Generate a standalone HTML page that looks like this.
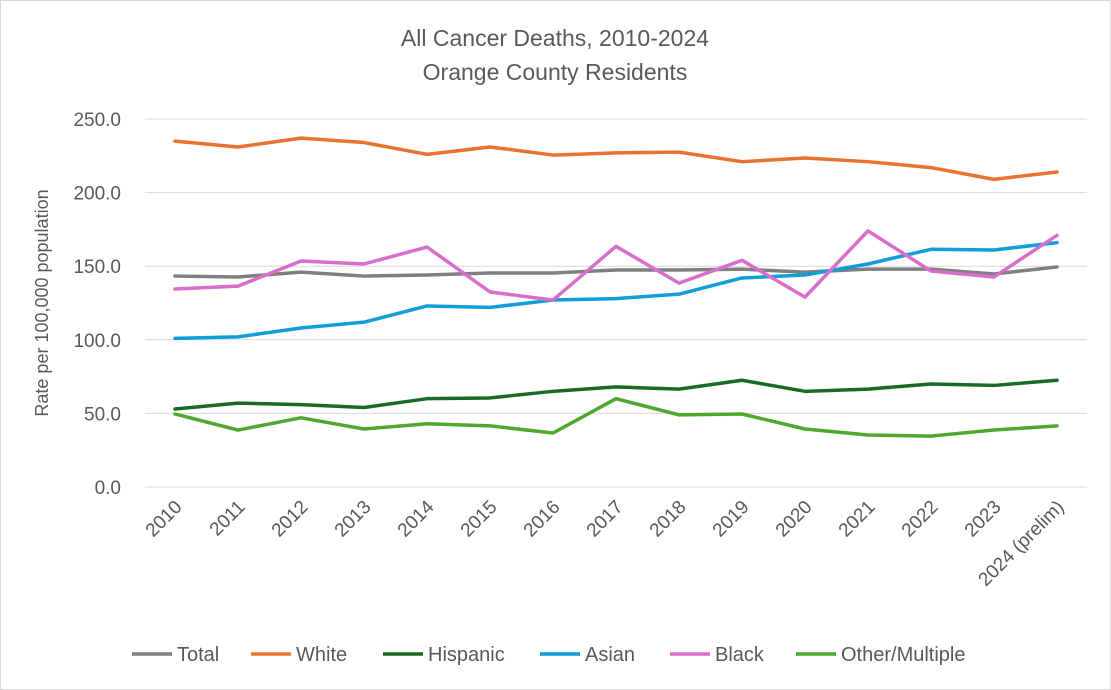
<!DOCTYPE html>
<html><head><meta charset="utf-8"><style>
html,body{margin:0;padding:0;background:#fff;}
svg{display:block;font-family:"Liberation Sans",Arial,sans-serif;}
</style></head><body>
<svg id="chart" width="1111" height="690" xmlns="http://www.w3.org/2000/svg">
<rect x="0.5" y="0.5" width="1110" height="689" fill="#fff" stroke="#d9d9d9"/>
<text x="555" y="46" text-anchor="middle" font-size="23" fill="#595959">All Cancer Deaths, 2010-2024</text>
<text x="555" y="80" text-anchor="middle" font-size="23" fill="#595959">Orange County Residents</text>
<text transform="translate(48,303) rotate(-90)" text-anchor="middle" font-size="18" fill="#595959">Rate per 100,000 population</text>
<g id="grid"></g><g id="series"></g><g id="xlabels"></g><g id="legend"></g>
</svg>
<script>
const categories=["2010","2011","2012","2013","2014","2015","2016","2017","2018","2019","2020","2021","2022","2023","2024 (prelim)"];
const yTicks=[0,50,100,150,200,250];
const seriesNames=["Total","White","Hispanic","Asian","Black","Other/Multiple"];
const seriesColors=["#7f7f7f","#e97132","#196b24","#0f9ed5","#d86ecc","#4ea72e"];
const totalVals=[143.3,142.7,146,143.3,144,145.4,145.4,147.4,147.4,148,146,148,148,144.7,149.5];
const whiteVals=[235,231,237,234,226,231,225.5,227,227.5,221,223.5,221,217,209,214];
const hispanicVals=[53,57,56,54,60,60.5,65,68,66.5,72.5,65,66.5,70,69,72.5];
const asianVals=[101,102,108,112,123,122,127,128,131,142,144,151.5,161.5,161,166];
const blackVals=[134.5,136.5,153.5,151.5,163,132.5,127,163.5,138.5,154,129,174,146.7,142.7,171];
const otherVals=[49.6,38.7,47,39.4,43,41.5,36.7,60,49,49.6,39.4,35.3,34.6,38.7,41.5];
const allVals=[totalVals,whiteVals,hispanicVals,asianVals,blackVals,otherVals];
const NS="http://www.w3.org/2000/svg";
const x0=175,xStep=63,yBase=487,yPer=1.472;
const xs=i=>x0+i*xStep, ys=v=>yBase-v*yPer;
function mk(t,a){const e=document.createElementNS(NS,t);for(const k in a)e.setAttribute(k,a[k]);return e;}
const grid=document.getElementById('grid');
yTicks.forEach(v=>{
 const l=mk('line',{x1:145,x2:1087,y1:ys(v),y2:ys(v),stroke:'#d9d9d9','stroke-width':1});
 
 
 grid.appendChild(l);
 const t=mk('text',{x:121,y:ys(v)+7,'text-anchor':'end','font-size':19,fill:'#595959'});
 t.textContent=v.toFixed(1);
 
 
 grid.appendChild(t);
});
const xl=document.getElementById('xlabels');
categories.forEach((c,i)=>{
 const t=mk('text',{transform:`translate(${xs(i)+8},${508}) rotate(-45)`,'text-anchor':'end','font-size':19,fill:'#595959'});
 t.textContent=c;
 
 
 xl.appendChild(t);
});
const sg=document.getElementById('series');
allVals.forEach((vals,s)=>{
 const p=mk('polyline',{points:vals.map((v,i)=>xs(i)+','+ys(v)).join(' '),fill:'none',stroke:seriesColors[s],'stroke-width':3.5,'stroke-linejoin':'round','stroke-linecap':'round'});
 
 
 sg.appendChild(p);
});
const lg=document.getElementById('legend');
const lx=[132,251,383,540,670,796];
seriesNames.forEach((n,s)=>{
 const g=mk('g',{});
 
 
 g.appendChild(mk('line',{x1:lx[s],x2:lx[s]+40,y1:654,y2:654,stroke:seriesColors[s],'stroke-width':3.5}));
 const t=mk('text',{x:lx[s]+45,y:661,'font-size':20,fill:'#595959'});
 t.textContent=n;
 g.appendChild(t);
 lg.appendChild(g);
});
</script>
</body></html>
